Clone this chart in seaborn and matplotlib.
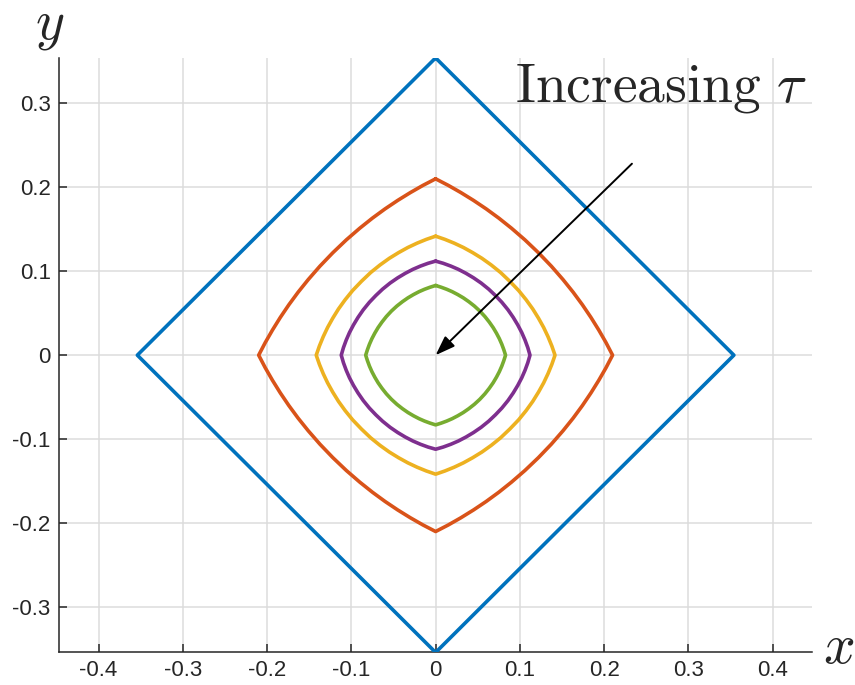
import numpy as np
import pandas as pd
import seaborn as sns
import matplotlib.pyplot as plt

# first-quadrant points of each closed curve
# (each curve runs from (0, r) on the y axis down to (r, 0) on the x axis)
blue_x = [0.0, 0.354]
blue_y = [0.354, 0.0]

orange_x = [0.0, 0.015, 0.030, 0.045, 0.060, 0.075, 0.090, 0.106, 0.122,
            0.1373, 0.1512, 0.1632, 0.1742, 0.1843, 0.1936, 0.2022, 0.210]
orange_y = [0.210, 0.2022, 0.1936, 0.1843, 0.1742, 0.1632, 0.1512, 0.1373, 0.122,
            0.106, 0.090, 0.075, 0.060, 0.045, 0.030, 0.015, 0.0]

yellow_x = [0.0, 0.011, 0.022, 0.033, 0.044, 0.055, 0.066, 0.077, 0.088,
            0.0985, 0.1074, 0.1153, 0.1221, 0.1282, 0.1334, 0.1379, 0.1417]
yellow_y = [0.1417, 0.1379, 0.1334, 0.1282, 0.1221, 0.1153, 0.1074, 0.0985, 0.088,
            0.077, 0.066, 0.055, 0.044, 0.033, 0.022, 0.011, 0.0]

purple_x = [0.0, 0.009, 0.018, 0.027, 0.036, 0.045, 0.054, 0.063, 0.071,
            0.0786, 0.0859, 0.0921, 0.0975, 0.1022, 0.1061, 0.1094, 0.112]
purple_y = [0.112, 0.1094, 0.1061, 0.1022, 0.0975, 0.0921, 0.0859, 0.0786, 0.071,
            0.063, 0.054, 0.045, 0.036, 0.027, 0.018, 0.009, 0.0]

green_x = [0.0, 0.0066, 0.0131, 0.0197, 0.0262, 0.0328, 0.0394, 0.046, 0.0525,
           0.0585, 0.0637, 0.0683, 0.0722, 0.0756, 0.0785, 0.0809, 0.083]
green_y = [0.083, 0.0809, 0.0785, 0.0756, 0.0722, 0.0683, 0.0637, 0.0585, 0.0525,
           0.046, 0.0394, 0.0328, 0.0262, 0.0197, 0.0131, 0.0066, 0.0]

curve_names = ['c1', 'c2', 'c3', 'c4', 'c5']
colors = ['#0072BD', '#D95319', '#EDB120', '#7E2F8E', '#77AC30']
x_ticks = [-0.4, -0.3, -0.2, -0.1, 0, 0.1, 0.2, 0.3, 0.4]
y_ticks = [-0.3, -0.2, -0.1, 0, 0.1, 0.2, 0.3]
x_labels = ['-0.4', '-0.3', '-0.2', '-0.1', '0', '0.1', '0.2', '0.3', '0.4']
y_labels = ['-0.3', '-0.2', '-0.1', '0', '0.1', '0.2', '0.3']


def close_curve(qx, qy):
    # mirror the first-quadrant piece into the other three quadrants
    qx = np.asarray(qx)
    qy = np.asarray(qy)
    xs = np.concatenate([qx, qx[::-1], -qx, -qx[::-1]])
    ys = np.concatenate([qy, -qy[::-1], -qy, qy[::-1]])
    return xs, ys


frames = []
for name, (qx, qy) in zip(curve_names, [(blue_x, blue_y), (orange_x, orange_y),
                                        (yellow_x, yellow_y), (purple_x, purple_y),
                                        (green_x, green_y)]):
    xs, ys = close_curve(qx, qy)
    frames.append(pd.DataFrame({'x': xs, 'y': ys, 'curve': name}))
df = pd.concat(frames, ignore_index=True)

sns.set_theme(style='white')
plt.rcParams['font.family'] = ['Liberation Sans', 'DejaVu Sans']
plt.rcParams['mathtext.fontset'] = 'cm'

fig = plt.figure(figsize=(8.55, 6.85), dpi=100)
ax = fig.add_axes([0.069, 0.048, 0.881, 0.867])

sns.lineplot(data=df, x='x', y='y', hue='curve', palette=colors, sort=False,
             estimator=None, legend=False, lw=2.6, ax=ax, zorder=3)

ax.annotate('', xy=(0, 0), xytext=(0.233, 0.228),
            arrowprops=dict(arrowstyle='-|>,head_length=0.7,head_width=0.25',
                            color='black', lw=1.4,
                            mutation_scale=17, shrinkA=0, shrinkB=0), zorder=4)
ax.text(0.094, 0.302, r'$\mathrm{Increasing}\ \tau$', fontsize=40,
        ha='left', va='baseline', zorder=5)

ax.set_xlim(-0.447, 0.447)
ax.set_ylim(-0.3536, 0.3536)
ax.set_xticks(x_ticks)
ax.set_yticks(y_ticks)
ax.set_xticklabels(x_labels)
ax.set_yticklabels(y_labels)
ax.grid(True, color='#dcdcdc', lw=1.1, zorder=0)
ax.set_axisbelow(True)
ax.set_xlabel('')
ax.set_ylabel('')
ax.tick_params(direction='in', length=6, width=1.1, labelsize=16,
               colors='#262626', pad=6, top=False, right=False, left=True, bottom=True)
for side in ['top', 'right']:
    ax.spines[side].set_visible(False)
for side in ['left', 'bottom']:
    ax.spines[side].set_color('#262626')
    ax.spines[side].set_linewidth(1.1)

fig.text(50 / 855, 1 - 38 / 685, r'$y$', fontsize=40, ha='center', va='baseline')
fig.text(839 / 855, 1 - 663 / 685, r'$x$', fontsize=40, ha='center', va='baseline')

plt.savefig('out.png', dpi=100)
